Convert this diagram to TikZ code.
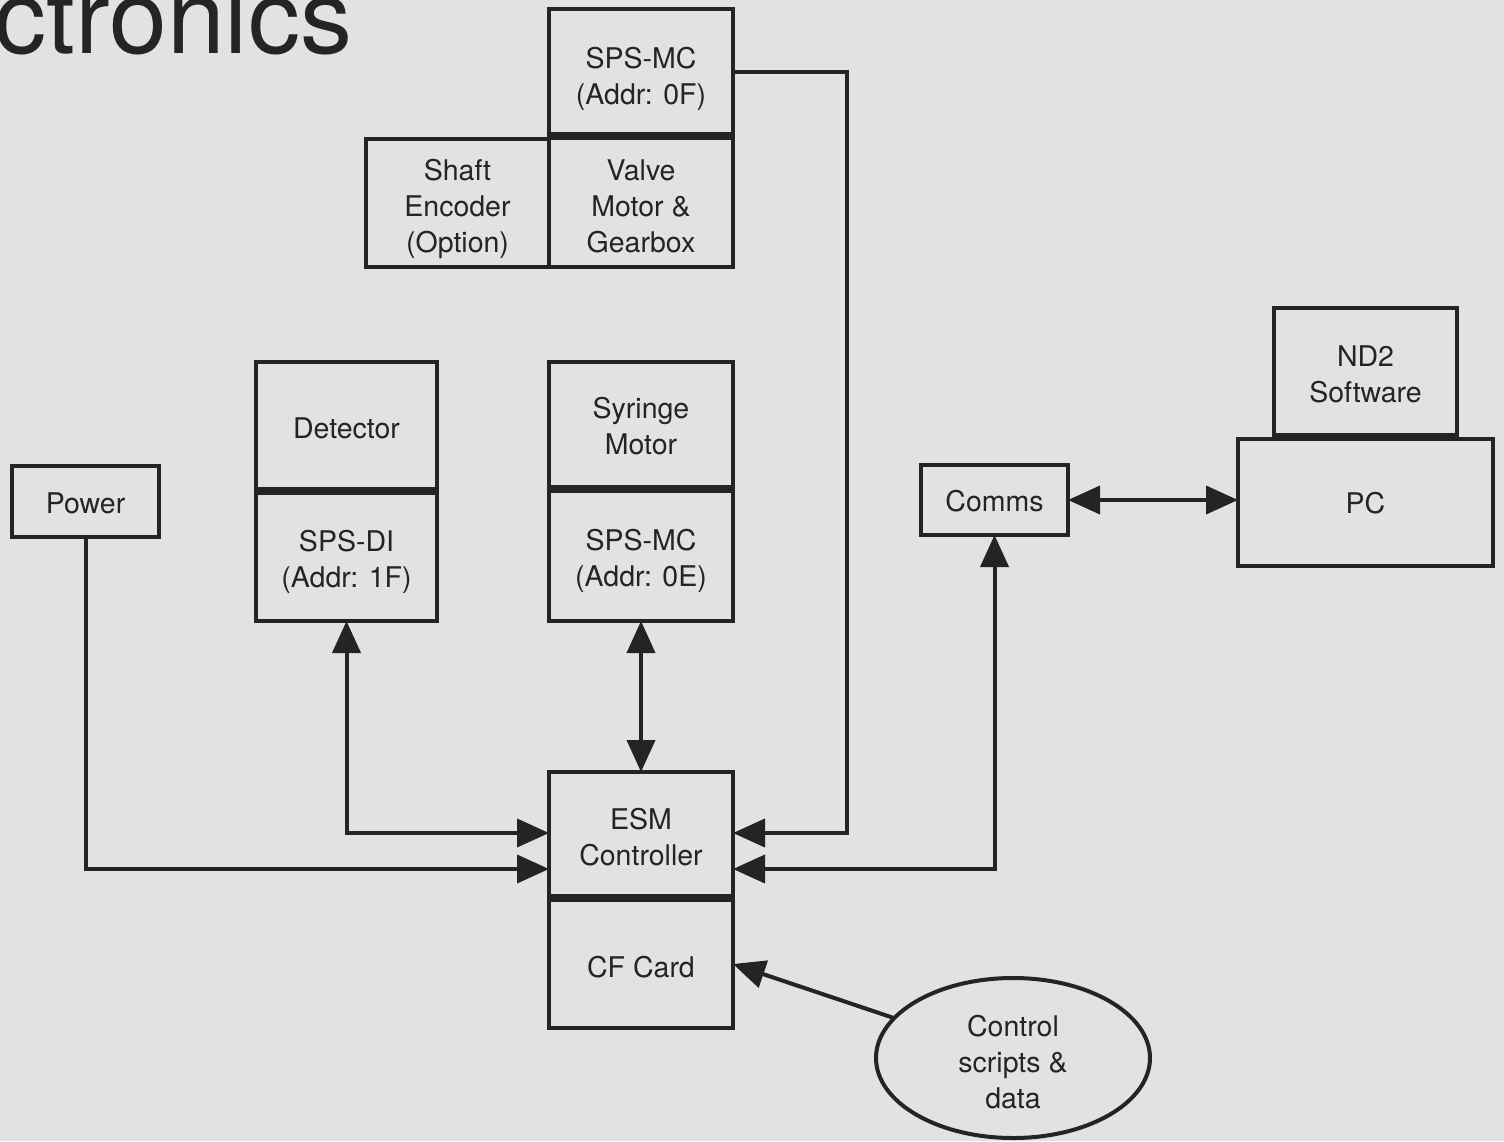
\documentclass[tikz,border=0pt]{standalone}
\usepackage{fontspec}
\setmainfont{TeX Gyre Heros}
\usetikzlibrary{arrows.meta,shapes.geometric}
\definecolor{paper}{RGB}{226,226,224}
\definecolor{ink}{RGB}{36,36,36}
\begin{document}
\begin{tikzpicture}[x=1pt,y=-1pt,
  box/.style={draw=ink, line width=4pt, rectangle, inner sep=0pt, outer sep=0pt},
  blob/.style={draw=ink, line width=4pt, ellipse, inner sep=0pt, outer sep=0pt},
  wire/.style={draw=ink, line width=4pt},
  tip/.tip={Triangle[length=32pt,width=28pt]},
  fwd/.style={wire, -tip},
  both/.style={wire, tip-tip},
  lbl/.style={text=ink, font=\fontsize{28.5}{36}\selectfont, align=center, inner sep=0pt}]
% page and background
\fill[paper] (0,0) rectangle (1504,1141);
\useasboundingbox (0,0) rectangle (1504,1141);
\begin{scope}
\clip (0,0) rectangle (1504,1141);
\node[anchor=base west, inner sep=0pt, text=ink, font=\fontsize{104}{104}\selectfont] (title) at (-6,53) {ctronics};
\end{scope}

% valve drive stack
\node[box, minimum width=184pt, minimum height=125pt] (mc0f)  at (641,71.5) {};
\node[box, minimum width=184pt, minimum height=129pt] (valve) at (641,202.5) {};
\node[box, minimum width=183pt, minimum height=128pt] (shaft) at (457.5,203) {};

% detector stack
\node[box, minimum width=181pt, minimum height=127pt] (det)   at (346.5,425.5) {};
\node[box, minimum width=181pt, minimum height=128pt] (spsdi) at (346.5,557) {};

% syringe stack
\node[box, minimum width=184pt, minimum height=125pt] (syr)  at (641,424.5) {};
\node[box, minimum width=184pt, minimum height=130pt] (mc0e) at (641,556) {};

% power and comms
\node[box, minimum width=147pt, minimum height=71pt] (power) at (85.5,501.5) {};
\node[box, minimum width=147pt, minimum height=70pt] (comms) at (994.5,500) {};

% host computer
\node[box, minimum width=183pt, minimum height=127pt] (nd2) at (1365.5,371.5) {};
\node[box, minimum width=255pt, minimum height=127pt] (pc)  at (1365.5,502.5) {};

% controller stack
\node[box, minimum width=184pt, minimum height=124pt] (esm) at (641,834) {};
\node[box, minimum width=184pt, minimum height=128pt] (cf)  at (641,964) {};

% script source
\node[blob, minimum width=274pt, minimum height=160pt] (ctl) at (1013,1058) {};

% box captions, set slightly below each box centre
\node[lbl] (t-mc0f)  at ([yshift=-7pt]mc0f.center)  {SPS-MC\\(Addr: 0F)};
\node[lbl] (t-valve) at ([yshift=-4pt]valve.center) {Valve\\Motor \&\\Gearbox};
\node[lbl] (t-shaft) at ([yshift=-6pt]shaft.center) {Shaft\\Encoder\\(Option)};
\node[lbl] (t-det)   at ([yshift=-3pt]det.center)   {Detector};
\node[lbl] (t-spsdi) at ([yshift=-5pt]spsdi.center) {SPS-DI\\(Addr: 1F)};
\node[lbl] (t-syr)   at ([yshift=-2pt]syr.center)   {Syringe\\Motor};
\node[lbl] (t-mc0e)  at ([yshift=-5pt]mc0e.center)  {SPS-MC\\(Addr: 0E)};
\node[lbl] (t-power) at ([yshift=-2pt]power.center) {Power};
\node[lbl] (t-comms) at ([yshift=-1pt]comms.center) {Comms};
\node[lbl] (t-nd2)   at ([yshift=-3pt]nd2.center)   {ND2\\Software};
\node[lbl] (t-pc)    at ([yshift=-1pt]pc.center)    {PC};
\node[lbl] (t-esm)   at ([yshift=-3pt]esm.center)   {ESM\\Controller};
\node[lbl] (t-cf)    at ([yshift=-3pt]cf.center)    {CF Card};
\node[lbl] (t-ctl)   at ([yshift=-4pt]ctl.center)   {Control\\scripts \&\\data};

% bends of the connectors
\coordinate (bendA) at (847,833);
\coordinate (bendB) at (995,869);
\coordinate (bendC) at (347,833);
\coordinate (bendD) at (86,869);

% connectors
\draw[fwd]  (mc0f.east) -| (bendA) -- (esm.east |- bendA);
\draw[both] (comms.south) |- (esm.east |- bendB);
\draw[both] (spsdi.south) |- (esm.west |- bendC);
\draw[fwd]  (power.south) |- (esm.west |- bendD);
\draw[both] (mc0e.south) -- (esm.north);
\draw[both] (comms.east) -- (pc.west |- comms.east);
\draw[fwd]  (ctl) -- (cf.east);
\end{tikzpicture}
\end{document}
